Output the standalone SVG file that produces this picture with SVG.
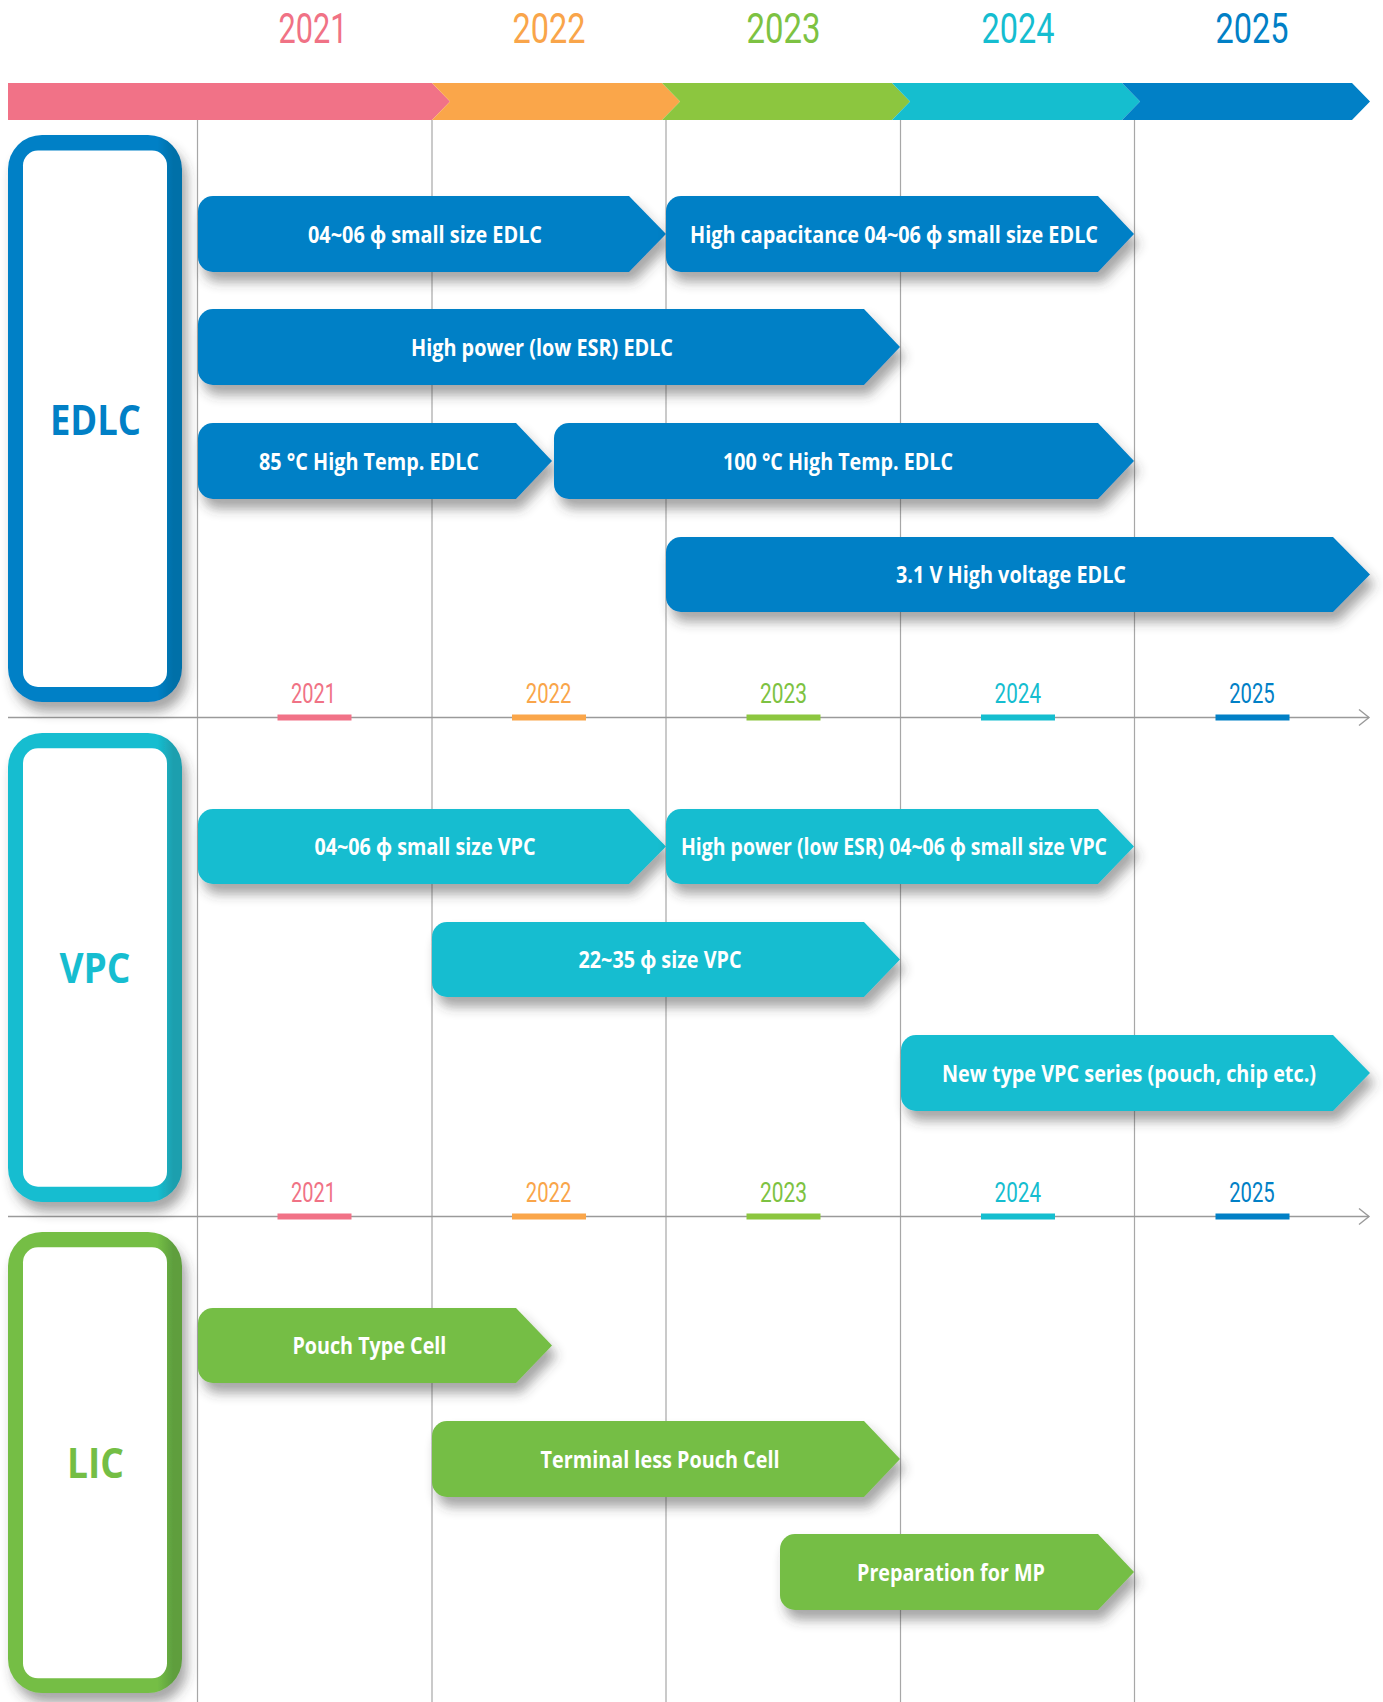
<svg xmlns="http://www.w3.org/2000/svg" width="1383" height="1702" viewBox="0 0 1383 1702">
<style>
.yr{font-family:Roboto,"Liberation Sans",sans-serif;font-weight:400;text-anchor:middle}
.yt{font-size:42px}
.ys{font-size:27px}
.bar{filter:url(#sh)}
.lbl{font-family:"Open Sans","Noto Sans","DejaVu Sans",sans-serif;font-weight:700;font-size:23px;fill:#fff;text-anchor:middle}
.cat{font-family:"Open Sans","Noto Sans","DejaVu Sans",sans-serif;font-weight:700;font-size:42px;text-anchor:middle}
.grid{stroke:#a7a7a7;stroke-width:1.2;fill:none}
.axis{stroke:#9a9a9a;stroke-width:1.4;fill:none}
.b{fill:#0180c6}.c{fill:#15bdd0}.g{fill:#74be45}
</style>
<defs>
<filter id="sh" x="-10%" y="-30%" width="125%" height="180%">
<feDropShadow dx="5" dy="10" stdDeviation="6" flood-color="#3a3a3a" flood-opacity="0.45"/>
</filter>
<linearGradient id="gB" x1="0" x2="1" y1="0" y2="0">
<stop offset="0" stop-color="#0180c6"/><stop offset="0.86" stop-color="#0180c6"/><stop offset="0.95" stop-color="#0070a8"/><stop offset="1" stop-color="#0070a8"/>
</linearGradient>
<linearGradient id="gC" x1="0" x2="1" y1="0" y2="0">
<stop offset="0" stop-color="#16bdd0"/><stop offset="0.86" stop-color="#16bdd0"/><stop offset="0.95" stop-color="#1e9fae"/><stop offset="1" stop-color="#1e9fae"/>
</linearGradient>
<linearGradient id="gG" x1="0" x2="1" y1="0" y2="0">
<stop offset="0" stop-color="#74be45"/><stop offset="0.86" stop-color="#74be45"/><stop offset="0.95" stop-color="#5e9e3e"/><stop offset="1" stop-color="#5e9e3e"/>
</linearGradient>
</defs>
<rect width="1383" height="1702" fill="#fff"/>

<g id="years-top" class="yr yt">
<text x="313" y="43" fill="#f07285" textLength="69" lengthAdjust="spacingAndGlyphs">2021</text>
<text x="549" y="43" fill="#f9a54a" textLength="73" lengthAdjust="spacingAndGlyphs">2022</text>
<text x="783.5" y="43" fill="#7dc242" textLength="74" lengthAdjust="spacingAndGlyphs">2023</text>
<text x="1018" y="43" fill="#15bdd0" textLength="73" lengthAdjust="spacingAndGlyphs">2024</text>
<text x="1252" y="43" fill="#0180c6" textLength="73" lengthAdjust="spacingAndGlyphs">2025</text>
</g>

<g id="grid">
<line class="grid" x1="197.5" y1="120" x2="197.5" y2="1702"/>
<line class="grid" x1="432" y1="120" x2="432" y2="1702"/>
<line class="grid" x1="666" y1="120" x2="666" y2="1702"/>
<line class="grid" x1="900.5" y1="120" x2="900.5" y2="1702"/>
<line class="grid" x1="1134.5" y1="120" x2="1134.5" y2="1702"/>
</g>

<g id="timeline-bar">
<path fill="#f17287" d="M8,83 H432 L450,101.5 L432,120 H8 Z"/>
<path fill="#faa64a" d="M432,83 H662 L680,101.5 L662,120 H432 L450,101.5 Z"/>
<path fill="#8cc63f" d="M662,83 H892 L910,101.5 L892,120 H662 L680,101.5 Z"/>
<path fill="#15becf" d="M892,83 H1122 L1140,101.5 L1122,120 H892 L910,101.5 Z"/>
<path fill="#0180c6" d="M1122,83 H1352 L1370,101.5 L1352,120 H1122 L1140,101.5 Z"/>
</g>

<g id="connectors">
<line class="axis" x1="8" y1="717.5" x2="1369" y2="717.5"/>
<polyline class="axis" points="1359,709.5 1369,717.5 1359,725.5"/>
<line class="axis" x1="8" y1="1216.5" x2="1369" y2="1216.5"/>
<polyline class="axis" points="1359,1208.5 1369,1216.5 1359,1224.5"/>
</g>

<g id="years-sub1">
<g class="yr ys">
<text x="313.5" y="702.7" fill="#f07285" textLength="45" lengthAdjust="spacingAndGlyphs">2021</text>
<text x="548.6" y="702.7" fill="#f9a54a" textLength="45.5" lengthAdjust="spacingAndGlyphs">2022</text>
<text x="783.4" y="702.7" fill="#7dc242" textLength="47" lengthAdjust="spacingAndGlyphs">2023</text>
<text x="1017.8" y="702.7" fill="#15bdd0" textLength="46.4" lengthAdjust="spacingAndGlyphs">2024</text>
<text x="1252" y="702.7" fill="#0180c6" textLength="45.5" lengthAdjust="spacingAndGlyphs">2025</text>
</g>
<rect x="277.5" y="714.5" width="74" height="6" fill="#f17287"/>
<rect x="512" y="714.5" width="74" height="6" fill="#faa64a"/>
<rect x="746.5" y="714.5" width="74" height="6" fill="#8cc63f"/>
<rect x="981" y="714.5" width="74" height="6" fill="#15becf"/>
<rect x="1215.5" y="714.5" width="74" height="6" fill="#0180c6"/>
</g>

<g id="years-sub2">
<g class="yr ys">
<text x="313.5" y="1201.7" fill="#f07285" textLength="45" lengthAdjust="spacingAndGlyphs">2021</text>
<text x="548.6" y="1201.7" fill="#f9a54a" textLength="45.5" lengthAdjust="spacingAndGlyphs">2022</text>
<text x="783.4" y="1201.7" fill="#7dc242" textLength="47" lengthAdjust="spacingAndGlyphs">2023</text>
<text x="1017.8" y="1201.7" fill="#15bdd0" textLength="46.4" lengthAdjust="spacingAndGlyphs">2024</text>
<text x="1252" y="1201.7" fill="#0180c6" textLength="45.5" lengthAdjust="spacingAndGlyphs">2025</text>
</g>
<rect x="277.5" y="1213.5" width="74" height="6" fill="#f17287"/>
<rect x="512" y="1213.5" width="74" height="6" fill="#faa64a"/>
<rect x="746.5" y="1213.5" width="74" height="6" fill="#8cc63f"/>
<rect x="981" y="1213.5" width="74" height="6" fill="#15becf"/>
<rect x="1215.5" y="1213.5" width="74" height="6" fill="#0180c6"/>
</g>

<g id="cat-edlc">
<rect x="8" y="135" width="174" height="567" rx="34" fill="url(#gB)" class="bar"/>
<rect x="23" y="150.5" width="144" height="536.5" rx="15" fill="#fff"/>
<text class="cat" x="95.5" y="434.5" fill="#0180c6" textLength="91" lengthAdjust="spacingAndGlyphs">EDLC</text>
</g>
<g id="cat-vpc">
<rect x="8" y="733" width="174" height="469" rx="34" fill="url(#gC)" class="bar"/>
<rect x="23" y="748.3" width="144" height="438.4" rx="15" fill="#fff"/>
<text class="cat" x="95" y="982.5" fill="#16bdd0" textLength="71" lengthAdjust="spacingAndGlyphs">VPC</text>
</g>
<g id="cat-lic">
<rect x="8" y="1232" width="174" height="461" rx="34" fill="url(#gG)" class="bar"/>
<rect x="23" y="1247.3" width="144" height="431" rx="15" fill="#fff"/>
<text class="cat" x="95.5" y="1477.5" fill="#74be45" textLength="57" lengthAdjust="spacingAndGlyphs">LIC</text>
</g>

<g id="e1"><path class="b bar" d="M213,196 H629 L666,234 L629,272 H213 A15,15 0 0 1 198,257 V211 A15,15 0 0 1 213,196 Z"/>
<text class="lbl" x="425" y="242.5" textLength="234" lengthAdjust="spacingAndGlyphs">04~06 ϕ small size EDLC</text></g>
<g id="e2"><path class="b bar" d="M681,196 H1098 L1134,234 L1098,272 H681 A15,15 0 0 1 666,257 V211 A15,15 0 0 1 681,196 Z"/>
<text class="lbl" x="894" y="242.5" textLength="408" lengthAdjust="spacingAndGlyphs">High capacitance 04~06 ϕ small size EDLC</text></g>
<g id="e3"><path class="b bar" d="M213,309 H864 L900,347 L864,385 H213 A15,15 0 0 1 198,370 V324 A15,15 0 0 1 213,309 Z"/>
<text class="lbl" x="542" y="355.5" textLength="262" lengthAdjust="spacingAndGlyphs">High power (low ESR) EDLC</text></g>
<g id="e4"><path class="b bar" d="M213,423 H516 L552,461 L516,499 H213 A15,15 0 0 1 198,484 V438 A15,15 0 0 1 213,423 Z"/>
<text class="lbl" x="369" y="469.5" textLength="220" lengthAdjust="spacingAndGlyphs">85 °C High Temp. EDLC</text></g>
<g id="e5"><path class="b bar" d="M569,423 H1098 L1134,461 L1098,499 H569 A15,15 0 0 1 554,484 V438 A15,15 0 0 1 569,423 Z"/>
<text class="lbl" x="838" y="469.5" textLength="230" lengthAdjust="spacingAndGlyphs">100 °C High Temp. EDLC</text></g>
<g id="e6"><path class="b bar" d="M681,537 H1333 L1370,574.5 L1333,612 H681 A15,15 0 0 1 666,597 V552 A15,15 0 0 1 681,537 Z"/>
<text class="lbl" x="1011" y="583" textLength="230" lengthAdjust="spacingAndGlyphs">3.1 V High voltage EDLC</text></g>

<g id="v1"><path class="c bar" d="M213,809 H629 L666,846.5 L629,884 H213 A15,15 0 0 1 198,869 V824 A15,15 0 0 1 213,809 Z"/>
<text class="lbl" x="425" y="855" textLength="221" lengthAdjust="spacingAndGlyphs">04~06 ϕ small size VPC</text></g>
<g id="v2"><path class="c bar" d="M681,809 H1098 L1134,846.5 L1098,884 H681 A15,15 0 0 1 666,869 V824 A15,15 0 0 1 681,809 Z"/>
<text class="lbl" x="894" y="855" textLength="426" lengthAdjust="spacingAndGlyphs">High power (low ESR) 04~06 ϕ small size VPC</text></g>
<g id="v3"><path class="c bar" d="M447,922 H864 L900,959.5 L864,997 H447 A15,15 0 0 1 432,982 V937 A15,15 0 0 1 447,922 Z"/>
<text class="lbl" x="660" y="968" textLength="163" lengthAdjust="spacingAndGlyphs">22~35 ϕ size VPC</text></g>
<g id="v4"><path class="c bar" d="M916,1035 H1333 L1370,1073 L1333,1111 H916 A15,15 0 0 1 901,1096 V1050 A15,15 0 0 1 916,1035 Z"/>
<text class="lbl" x="1129" y="1081.5" textLength="374" lengthAdjust="spacingAndGlyphs">New type VPC series (pouch, chip etc.)</text></g>

<g id="l1"><path class="g bar" d="M213,1308 H516 L552,1345.5 L516,1383 H213 A15,15 0 0 1 198,1368 V1323 A15,15 0 0 1 213,1308 Z"/>
<text class="lbl" x="369.4" y="1354" textLength="154" lengthAdjust="spacingAndGlyphs">Pouch Type Cell</text></g>
<g id="l2"><path class="g bar" d="M447,1421 H864 L900,1459 L864,1497 H447 A15,15 0 0 1 432,1482 V1436 A15,15 0 0 1 447,1421 Z"/>
<text class="lbl" x="660" y="1467.5" textLength="239" lengthAdjust="spacingAndGlyphs">Terminal less Pouch Cell</text></g>
<g id="l3"><path class="g bar" d="M795,1534 H1098 L1134,1572 L1098,1610 H795 A15,15 0 0 1 780,1595 V1549 A15,15 0 0 1 795,1534 Z"/>
<text class="lbl" x="951" y="1580.5" textLength="188" lengthAdjust="spacingAndGlyphs">Preparation for MP</text></g>
</svg>
